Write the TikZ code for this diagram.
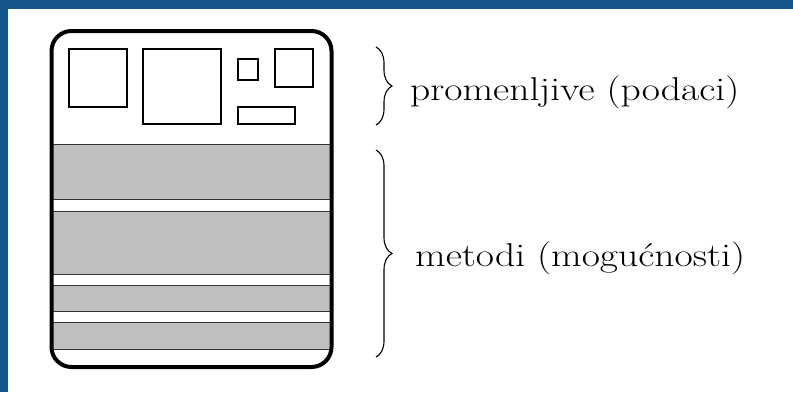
\documentclass[tikz,border=0pt]{standalone}
\usetikzlibrary{decorations.pathreplacing}
\definecolor{frameblue}{RGB}{20,85,140}
\tikzset{
  slot/.style={draw, line width=1.2pt},
  band/.style={draw=black!80, line width=1pt, fill=black!25},
  curly/.style={decorate, decoration={brace, amplitude=16pt}, line width=1.1pt},
  caption/.style={anchor=base west, inner sep=0pt, xscale=1.2, font=\fontsize{33}{40}\selectfont}
}
\begin{document}
\begin{tikzpicture}[x=1pt, y=-1pt]
  \useasboundingbox (0,0) rectangle (793,392);
  \fill [frameblue] (0,0) rectangle (793,9);
  \fill [frameblue] (0,0) rectangle (8,392);
  % the object
  \coordinate (nw) at (51.5,31);
  \coordinate (se) at (331.5,367);
  \begin{scope}
    \clip [rounded corners=20pt] (nw) rectangle (se);
    \draw [band] (40,144) rectangle (340,199);
    \draw [band] (40,211) rectangle (340,274);
    \draw [band] (40,285) rectangle (340,311);
    \draw [band] (40,322) rectangle (340,349);
  \end{scope}
  \draw [line width=4pt, rounded corners=20pt] (nw) rectangle (se);
  % variables
  \draw [slot] (69,49)   rectangle (127,107);
  \draw [slot] (143,49)  rectangle (221,124);
  \draw [slot] (238,59)  rectangle (258,80);
  \draw [slot] (275,49)  rectangle (313,87);
  \draw [slot] (238,107) rectangle (295,124);
  % braces
  \coordinate (vtop) at (376,47);
  \coordinate (vbot) at (376,125);
  \draw [curly] (vtop) -- (vbot);
  \coordinate (mtop) at (376,150);
  \coordinate (mbot) at (376,357);
  \draw [curly] (mtop) -- (mbot);
  \node [caption] (vars) at (410,100) {promenljive (podaci)};
  \node [caption] (meth) at (415,266) {metodi (mogućnosti)};
\end{tikzpicture}
\end{document}
